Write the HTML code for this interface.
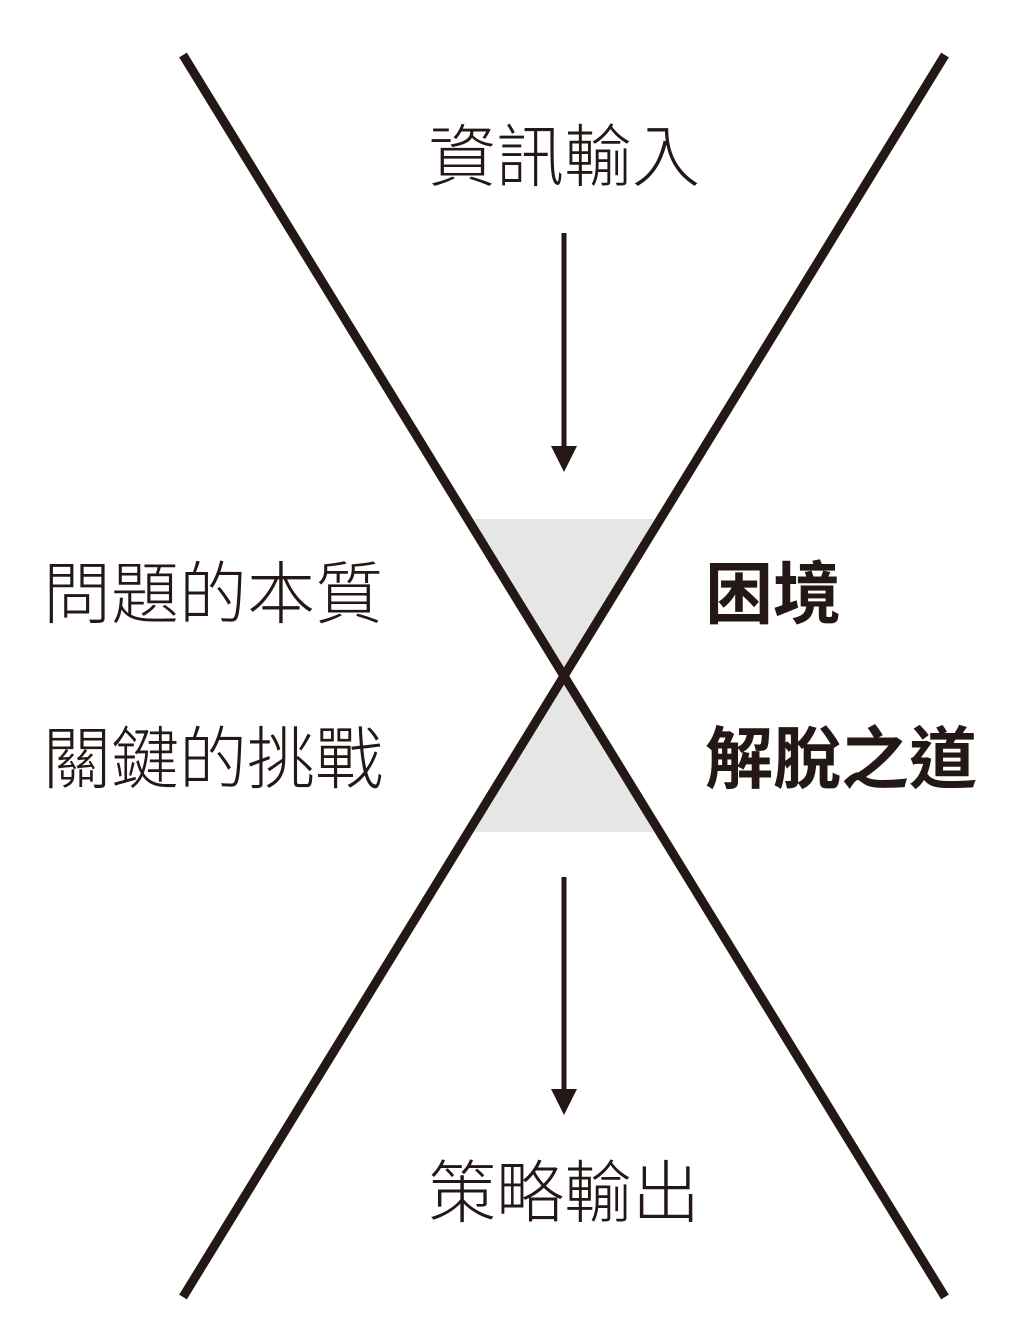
<!DOCTYPE html>
<html><head><meta charset="utf-8"><style>
html,body{margin:0;padding:0;background:#fff;}
body{width:1024px;height:1339px;overflow:hidden;}
</style></head><body>
<svg width="1024" height="1339" viewBox="0 0 1024 1339" xmlns="http://www.w3.org/2000/svg">
<polygon points="468,519 660,519 564,676" fill="#e6e6e7"/>
<polygon points="564,676 660,832 468,832" fill="#e6e6e7"/>
<line x1="183" y1="55" x2="945" y2="1297" stroke="#231815" stroke-width="9"/>
<line x1="945" y1="55" x2="183" y2="1297" stroke="#231815" stroke-width="9"/>
<line x1="564" y1="233" x2="564" y2="450" stroke="#231815" stroke-width="5"/>
<polygon points="551,446 577,446 564,472" fill="#231815"/>
<line x1="564" y1="877" x2="564" y2="1092" stroke="#231815" stroke-width="5"/>
<polygon points="551,1089 577,1089 564,1115" fill="#231815"/>
<g font-family="'Liberation Sans','Noto Sans CJK TC',sans-serif" fill="#231815" font-size="68">
<text x="564" y="181" text-anchor="middle" font-weight="300">資訊輸入</text>
<text x="564" y="1217" text-anchor="middle" font-weight="300">策略輸出</text>
<text x="43" y="618" font-weight="300">問題的本質</text>
<text x="43" y="783" font-weight="300">關鍵的挑戰</text>
<text x="705" y="618" font-weight="bold">困境</text>
<text x="705" y="783" font-weight="bold">解脫之道</text>
</g>
</svg>
</body></html>
